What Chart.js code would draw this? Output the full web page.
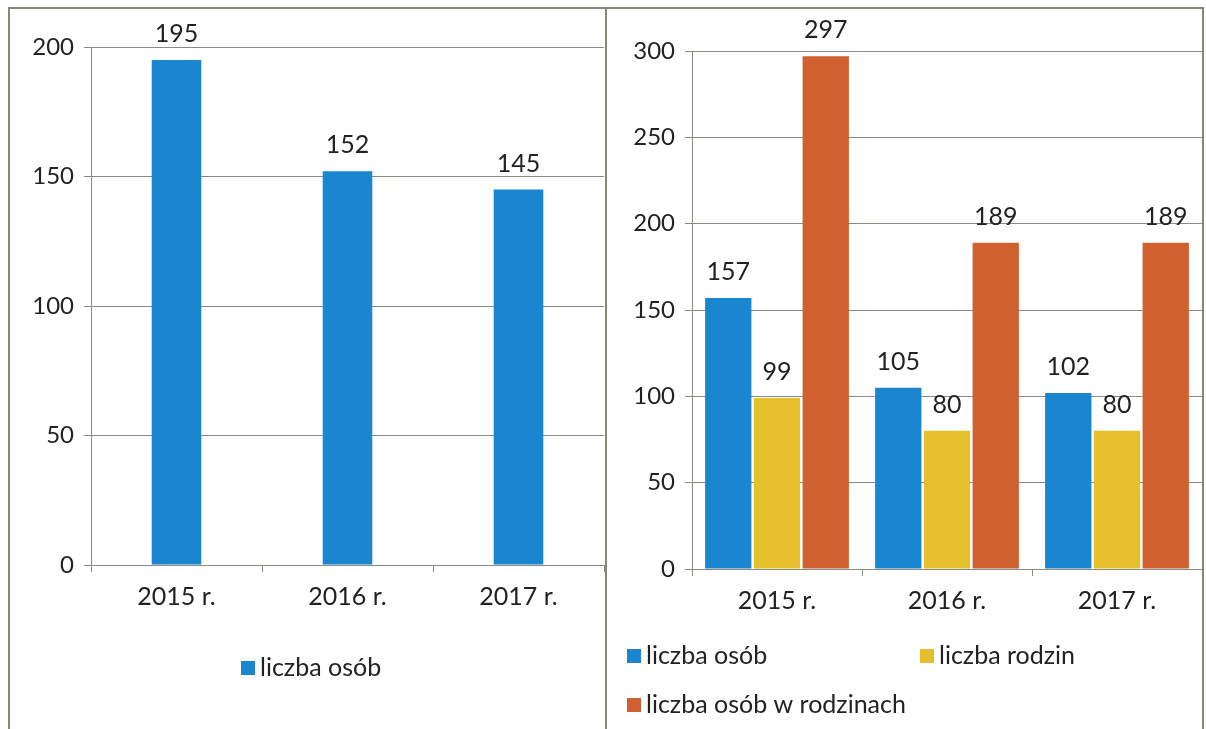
<!DOCTYPE html>
<html>
<head>
<meta charset="utf-8">
<script src="https://cdn.jsdelivr.net/npm/chart.js@4.4.0/dist/chart.umd.min.js"></script>
<style>
  html, body { margin: 0; padding: 0; background: #fff; }
  body { width: 1206px; height: 729px; position: relative; overflow: hidden; }
  .panel { position: absolute; top: 7px; height: 730px; border: 2px solid #7f8b78; box-sizing: border-box; background: #fff; }
  #p1 { left: 8px; width: 600px; }
  #p2 { left: 605px; width: 599px; }
  canvas { display: block; }
</style>
</head>
<body>
<div class="panel" id="p1"><canvas id="c1"></canvas></div>
<div class="panel" id="p2"><canvas id="c2"></canvas></div>
<script>
// dane
const years = ['2015 r.', '2016 r.', '2017 r.'];
const osobyLewy = [195, 152, 145];
const osoby = [157, 105, 102];
const rodziny = [99, 80, 80];
const osobyWRodzinach = [297, 189, 189];

const BLUE = '#1b86d0';
const YELLOW = '#e5c02c';
const ORANGE = '#d0602f';
const TXT = '#222';
const GRID = '#868c80';
const FONT = 'Lato, "Open Sans", sans-serif';

// podpisy wartosci nad slupkami
const valueLabels = {
    id: 'valueLabels',
    afterDatasetsDraw(chart) {
        let ctx = chart.ctx;
        ctx.save();
        ctx.fillStyle = TXT;
        ctx.font = '25px ' + FONT;
        ctx.textAlign = 'center';
        ctx.textBaseline = 'middle';
        chart.data.datasets.forEach(function (ds, i) {
            chart.getDatasetMeta(i).data.forEach(function (bar, j) {
                ctx.fillText(ds.data[j], bar.x, bar.y - 26);
            });
        });
        ctx.restore();
    }
};

// legenda rysowana recznie (uklad jak w Excelu)
const boxLegend = {
    id: 'boxLegend',
    afterDraw(chart, args, opts) {
        let ctx = chart.ctx;
        ctx.save();
        ctx.font = '25px ' + FONT;
        ctx.textBaseline = 'middle';
        chart.data.datasets.forEach(function (ds, i) {
            let p = opts.pos[i];
            ctx.fillStyle = ds.backgroundColor;
            ctx.fillRect(p[0], p[1] - 7, 14, 14);
            ctx.fillStyle = TXT;
            ctx.fillText(ds.label, p[0] + 19, p[1]);
        });
        ctx.restore();
    }
};

function makeOptions(max, axisW, padTop, padRight, padBottom, legendPos) {
    return {
        responsive: false,
        animation: false,
        layout: { padding: { top: padTop, right: padRight, bottom: padBottom, left: 0 } },
        plugins: {
            legend: { display: false },
            tooltip: { enabled: false },
            boxLegend: { pos: legendPos }
        },
        scales: {
            x: {
                grid: { display: true, drawOnChartArea: false, color: GRID, tickLength: 7, offset: true },
                border: { display: true, color: GRID, width: 1 },
                ticks: { color: TXT, font: { family: FONT, size: 25 }, padding: 10 },
                afterFit: function (s) { s.height = 62; }
            },
            y: {
                min: 0,
                max: max,
                grid: { color: GRID, tickLength: 7, lineWidth: 1 },
                border: { display: true, color: GRID, width: 1 },
                ticks: { stepSize: 50, color: TXT, font: { family: FONT, size: 24 }, padding: 10 },
                afterFit: function (s) { s.width = axisW; }
            }
        }
    };
}

let cns1 = document.getElementById('c1');
cns1.width = 596; cns1.height = 724;
new Chart(cns1.getContext('2d'), {
    type: 'bar',
    data: {
        labels: years,
        datasets: [
            { label: 'liczba osób', data: osobyLewy, backgroundColor: BLUE, categoryPercentage: 1, barPercentage: 0.29 }
        ]
    },
    options: makeOptions(200, 81, 38, 2, 106, [[231, 659]]),
    plugins: [valueLabels, boxLegend]
});

let cns2 = document.getElementById('c2');
cns2.width = 595; cns2.height = 724;
new Chart(cns2.getContext('2d'), {
    type: 'bar',
    data: {
        labels: years,
        datasets: [
            { label: 'liczba osób', data: osoby, backgroundColor: BLUE, categoryPercentage: 0.86, barPercentage: 0.95 },
            { label: 'liczba rodzin', data: rodziny, backgroundColor: YELLOW, categoryPercentage: 0.86, barPercentage: 0.95 },
            { label: 'liczba osób w rodzinach', data: osobyWRodzinach, backgroundColor: ORANGE, categoryPercentage: 0.86, barPercentage: 0.95 }
        ]
    },
    options: makeOptions(300, 85, 42, 0, 102, [[20, 647], [313, 647], [20, 696]]),
    plugins: [valueLabels, boxLegend]
});
</script>
</body>
</html>
